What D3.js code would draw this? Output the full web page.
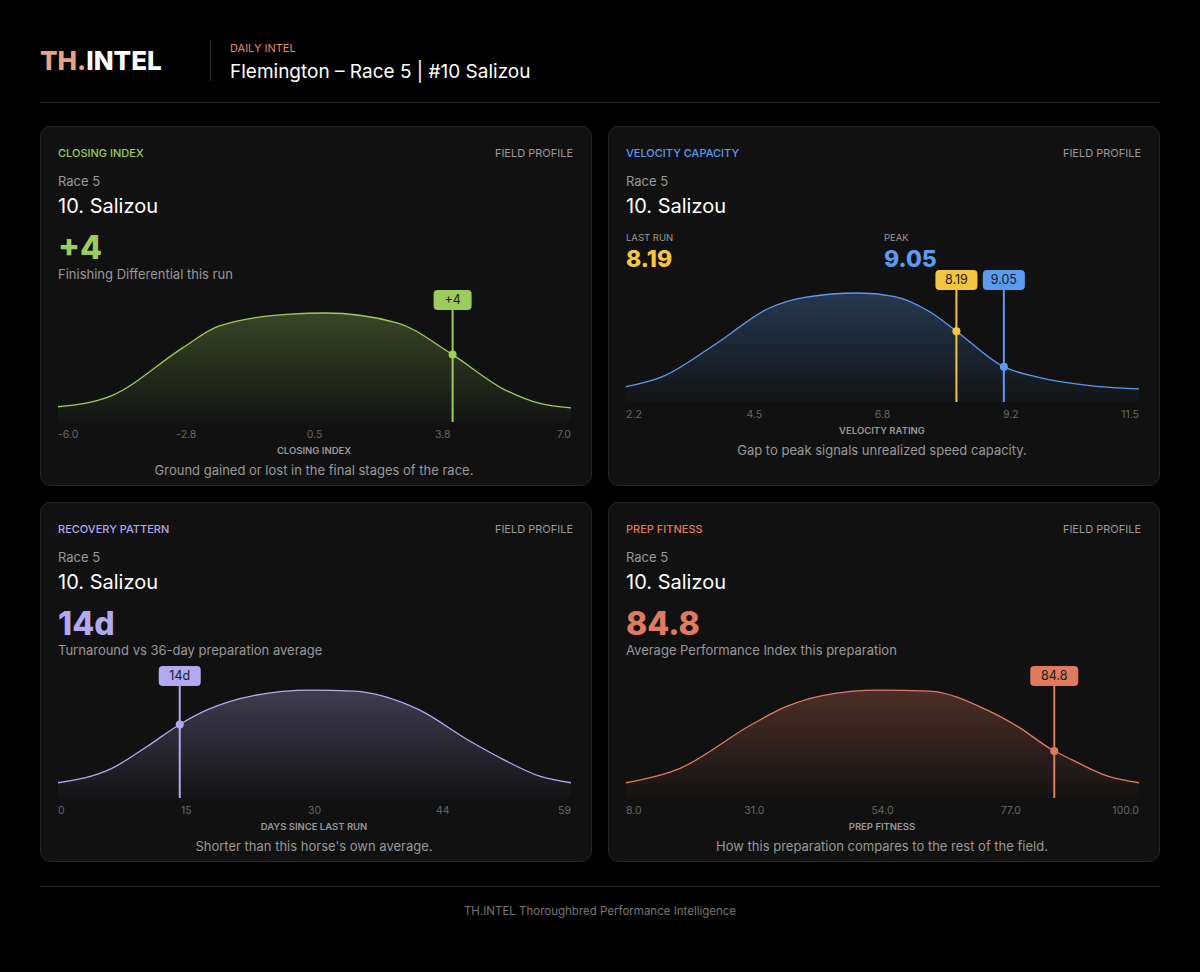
<!DOCTYPE html>
<html>
<head>
<script src="https://cdn.jsdelivr.net/npm/d3@7"></script>
<style>
  body { margin:0; background:#000; }
  svg text { font-family: Inter, "Noto Sans", sans-serif; }
</style>
</head>
<body>
<svg id="chart" width="1200" height="972"></svg>
<script>
// curve samples: value on x axis, relative density
var closingX = [-6.0, -4.65, -2.84, -1.93, -0.12, 0.78, 2.59, 3.95, 5.30, 6.21, 7.0];
var closingD = [0.14, 0.24, 0.68, 0.88, 0.99, 1.0, 0.91, 0.63, 0.30, 0.17, 0.13];
var closingTicks = ["-6.0", "-2.8", "0.5", "3.8", "7.0"];

var velocityX = [2.2, 2.85, 3.82, 4.79, 5.44, 6.41, 7.05, 7.70, 8.19, 9.06, 9.64, 10.61, 11.5];
var velocityD = [0.14, 0.23, 0.53, 0.86, 0.96, 1.0, 0.97, 0.83, 0.65, 0.32, 0.23, 0.15, 0.12];
var velocityTicks = ["2.2", "4.5", "6.8", "9.2", "11.5"];

var recoveryX = [0, 6.14, 10.2, 13.9, 17.2, 22.5, 29.1, 34.0, 41.5, 47.2, 51.3, 55.4, 59];
var recoveryD = [0.14, 0.27, 0.47, 0.67, 0.81, 0.94, 0.99, 0.98, 0.81, 0.53, 0.35, 0.20, 0.14];
var recoveryTicks = ["0", "15", "30", "44", "59"];

var prepX = [8, 17.6, 30.4, 36.8, 43.2, 53.4, 62.4, 72.6, 78.4, 84.5, 88.0, 94.4, 100];
var prepD = [0.14, 0.27, 0.67, 0.84, 0.94, 0.99, 0.98, 0.81, 0.65, 0.44, 0.35, 0.20, 0.14];
var prepTicks = ["8.0", "31.0", "54.0", "77.0", "100.0"];

var panels = [
  {x:40, y:126, title:"CLOSING INDEX", color:"#9ccc5c", big:"+4", sub:"Finishing Differential this run",
   xs:closingX, ds:closingD, ticks:closingTicks, axis:"CLOSING INDEX",
   caption:"Ground gained or lost in the final stages of the race.",
   markers:[{v:4, label:"+4", color:"#9ccc5c"}]},
  {x:608, y:126, title:"VELOCITY CAPACITY", color:"#5b9cf0", twin:true,
   xs:velocityX, ds:velocityD, ticks:velocityTicks, axis:"VELOCITY RATING",
   caption:"Gap to peak signals unrealized speed capacity.",
   markers:[{v:8.19, label:"8.19", color:"#f5c542"}, {v:9.05, label:"9.05", color:"#5b9cf0"}]},
  {x:40, y:502, title:"RECOVERY PATTERN", color:"#b3a9f0", big:"14d", sub:"Turnaround vs 36-day preparation average",
   xs:recoveryX, ds:recoveryD, ticks:recoveryTicks, axis:"DAYS SINCE LAST RUN",
   caption:"Shorter than this horse's own average.",
   markers:[{v:14, label:"14d", color:"#b3a9f0"}]},
  {x:608, y:502, title:"PREP FITNESS", color:"#e07a5f", big:"84.8", sub:"Average Performance Index this preparation",
   xs:prepX, ds:prepD, ticks:prepTicks, axis:"PREP FITNESS",
   caption:"How this preparation compares to the rest of the field.",
   markers:[{v:84.8, label:"84.8", color:"#e07a5f"}]}
];

var svg = d3.select("#chart");
var defs = svg.append("defs");

// header
var logo = svg.append("text").attr("x", 40).attr("y", 70).attr("font-size", 26).attr("font-weight", 800);
logo.append("tspan").attr("fill", "#eba084").text("TH.");
logo.append("tspan").attr("fill", "#fff").text("INTEL");
svg.append("line").attr("x1", 210.5).attr("x2", 210.5).attr("y1", 40).attr("y2", 81).attr("stroke", "#333");
svg.append("text").attr("x", 230).attr("y", 52).attr("font-size", 11).attr("fill", "#e8896a").text("DAILY INTEL");
svg.append("text").attr("x", 230).attr("y", 78).attr("font-size", 19).attr("fill", "#fff").text("Flemington – Race 5 | #10 Salizou");
svg.append("line").attr("x1", 40).attr("x2", 1160).attr("y1", 102.5).attr("y2", 102.5).attr("stroke", "#2a2a2a");
svg.append("line").attr("x1", 40).attr("x2", 1160).attr("y1", 886.5).attr("y2", 886.5).attr("stroke", "#2a2a2a");
svg.append("text").attr("x", 600).attr("y", 915).attr("text-anchor", "middle").attr("font-size", 11.5).attr("fill", "#777")
  .text("TH.INTEL Thoroughbred Performance Intelligence");

panels.forEach(function(p, i) {
  var g = svg.append("g").attr("transform", "translate(" + p.x + "," + p.y + ")");
  g.append("rect").attr("x", 0.5).attr("y", 0.5).attr("width", 551).attr("height", 359).attr("rx", 10)
    .attr("fill", "#111").attr("stroke", "#262626");
  g.append("text").attr("x", 18).attr("y", 31).attr("font-size", 11).attr("font-weight", 500).attr("fill", p.color).text(p.title);
  g.append("text").attr("x", 533).attr("y", 31).attr("text-anchor", "end").attr("font-size", 11).attr("fill", "#999").text("FIELD PROFILE");
  g.append("text").attr("x", 18).attr("y", 60).attr("font-size", 13).attr("fill", "#999").text("Race 5");
  g.append("text").attr("x", 18).attr("y", 87).attr("font-size", 20).attr("fill", "#fff").text("10. Salizou");

  var base;
  if (p.twin) {
    g.append("text").attr("x", 18).attr("y", 115).attr("font-size", 9.5).attr("fill", "#999").text("LAST RUN");
    g.append("text").attr("x", 18).attr("y", 141).attr("font-size", 23).attr("font-weight", 800).attr("fill", "#f5c542").text("8.19");
    g.append("text").attr("x", 276).attr("y", 115).attr("font-size", 9.5).attr("fill", "#999").text("PEAK");
    g.append("text").attr("x", 276).attr("y", 141).attr("font-size", 23).attr("font-weight", 800).attr("fill", "#5b9cf0").text("9.05");
    base = 276;
  } else {
    g.append("text").attr("x", 18).attr("y", 133).attr("font-size", 32).attr("font-weight", 800).attr("fill", p.color).text(p.big);
    g.append("text").attr("x", 18).attr("y", 153).attr("font-size", 13).attr("fill", "#999").text(p.sub);
    base = 296;
  }

  var x = d3.scaleLinear().domain([p.xs[0], p.xs[p.xs.length - 1]]).range([18, 531]);
  var y = d3.scaleLinear().domain([0, 1]).range([base, base - 109]);
  var pts = p.xs.map(function(v, k) { return [v, p.ds[k]]; });

  var gid = "grad" + i;
  var grad = defs.append("linearGradient").attr("id", gid).attr("x1", 0).attr("x2", 0).attr("y1", 0).attr("y2", 1);
  grad.append("stop").attr("offset", "0%").attr("stop-color", p.color).attr("stop-opacity", 0.28);
  grad.append("stop").attr("offset", "100%").attr("stop-color", p.color).attr("stop-opacity", 0.02);

  var area = d3.area().x(function(d) { return x(d[0]); }).y0(base).y1(function(d) { return y(d[1]); }).curve(d3.curveMonotoneX);
  var line = d3.line().x(function(d) { return x(d[0]); }).y(function(d) { return y(d[1]); }).curve(d3.curveMonotoneX);
  g.append("path").datum(pts).attr("d", area).attr("fill", "url(#" + gid + ")");
  var path = g.append("path").datum(pts).attr("d", line).attr("fill", "none").attr("stroke", p.color).attr("stroke-width", 1.3);

  // find curve height at a given x via path sampling
  var node = path.node(), len = node.getTotalLength();
  function curveY(px) {
    var lo = 0, hi = len;
    for (var n = 0; n < 30; n++) {
      var mid = (lo + hi) / 2;
      if (node.getPointAtLength(mid).x < px) lo = mid; else hi = mid;
    }
    return node.getPointAtLength(lo).y;
  }

  p.markers.forEach(function(m) {
    var mx = x(m.v);
    var top = base - 112;
    g.append("line").attr("x1", mx).attr("x2", mx).attr("y1", top).attr("y2", base).attr("stroke", m.color).attr("stroke-width", 2);
    g.append("circle").attr("cx", mx).attr("cy", curveY(mx)).attr("r", 4).attr("fill", m.color);
    var w = m.label.length > 3 ? 48 : (m.label.length > 2 ? 42 : 38);
    if (p.twin) w = 42;
    g.append("rect").attr("x", mx - w / 2).attr("y", top - 20).attr("width", w).attr("height", 20).attr("rx", 4).attr("fill", m.color);
    g.append("text").attr("x", mx).attr("y", top - 6).attr("text-anchor", "middle").attr("font-size", 12.5).attr("fill", "#1a1a1a").text(m.label);
  });

  // tick labels evenly placed across the axis
  var n = p.ticks.length;
  p.ticks.forEach(function(t, k) {
    var tx = 18 + k * (513 / (n - 1));
    var anchor = k === 0 ? "start" : (k === n - 1 ? "end" : "middle");
    g.append("text").attr("x", tx).attr("y", base + 16).attr("text-anchor", anchor).attr("font-size", 10.5).attr("fill", "#666").text(t);
  });
  g.append("text").attr("x", 274).attr("y", base + 32).attr("text-anchor", "middle").attr("font-size", 9.5).attr("font-weight", 600).attr("fill", "#999").text(p.axis);
  g.append("text").attr("x", 274).attr("y", base + 53).attr("text-anchor", "middle").attr("font-size", 13).attr("fill", "#999").text(p.caption);
});
</script>
</body>
</html>
